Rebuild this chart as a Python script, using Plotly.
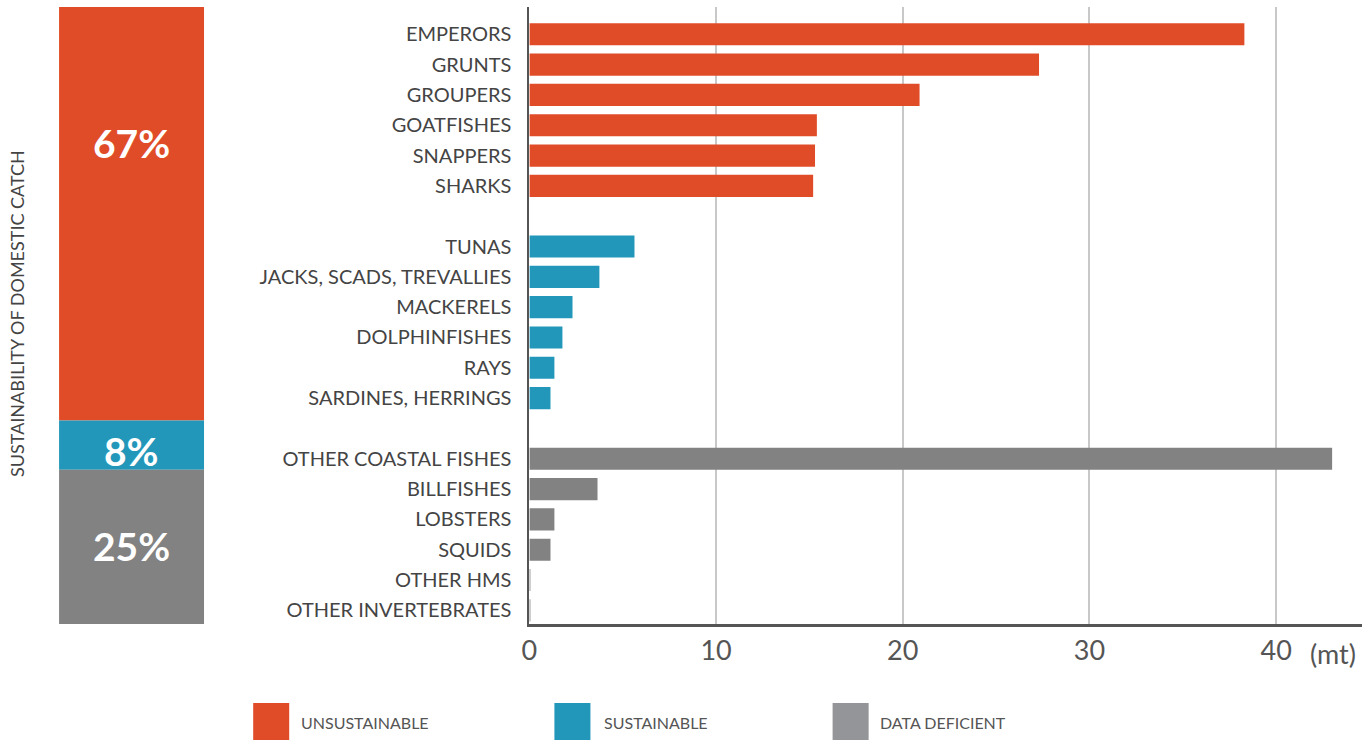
import plotly.graph_objects as go

# Catch by species group (mt), grouped by sustainability status
unsustainable_names = ["EMPERORS", "GRUNTS", "GROUPERS", "GOATFISHES", "SNAPPERS", "SHARKS"]
unsustainable_vals = [38.3, 27.3, 20.9, 15.4, 15.3, 15.2]

sustainable_names = ["TUNAS", "JACKS, SCADS, TREVALLIES", "MACKERELS", "DOLPHINFISHES", "RAYS",
                     "SARDINES, HERRINGS"]
sustainable_vals = [5.63, 3.75, 2.31, 1.77, 1.34, 1.13]

deficient_names = ["OTHER COASTAL FISHES", "BILLFISHES", "LOBSTERS", "SQUIDS", "OTHER HMS",
                   "OTHER INVERTEBRATES"]
deficient_vals = [43.0, 3.65, 1.34, 1.13, 0.05, 0.02]

# Share of domestic catch by status (%)
status_labels = ["UNSUSTAINABLE", "SUSTAINABLE", "DATA DEFICIENT"]
status_shares = [67, 8, 25]
# Where each percentage label sits along the share bar (0 = bottom, 100 = top)
share_label_pos = [78.0, 28.0, 12.6]

x_ticks = [0, 10, 20, 30, 40]

RED = "#E04C28"
BLUE = "#2397BA"
GREY = "#828282"
LEGEND_GREY = "#939598"
FONT = "Lato, 'Open Sans', sans-serif"

W, H = 1372, 740


def px(x):
    """Horizontal pixel position -> paper fraction."""
    return (x - 9) / (W - 9)


def py(y):
    """Vertical pixel position (from top) -> paper fraction."""
    return 1 - y / H


groups = [
    (unsustainable_names, unsustainable_vals, RED),
    (sustainable_names, sustainable_vals, BLUE),
    (deficient_names, deficient_vals, GREY),
]

fig = go.Figure()

# Rows are placed with one empty slot between groups
tickvals, ticktext = [], []
pos = 0
for names, vals, color in groups:
    ys = list(range(pos, pos + len(names)))
    fig.add_trace(go.Bar(
        x=vals, y=ys, orientation="h", marker=dict(color=color, line=dict(width=0)),
        width=0.73, showlegend=False, xaxis="x", yaxis="y",
    ))
    tickvals += ys
    ticktext += names
    pos += len(names) + 1

# Stacked share bar on the left
share_colors = [RED, BLUE, GREY]
cum = 100
for label, share, color, lab_y in zip(status_labels, status_shares, share_colors,
                                      share_label_pos):
    fig.add_trace(go.Bar(
        x=[0], y=[share], base=[cum - share], marker=dict(color=color, line=dict(width=0)),
        width=1, showlegend=False, xaxis="x2", yaxis="y2", name=label,
    ))
    fig.add_annotation(
        text=f"<b>{share}%</b>", x=0, y=lab_y, xref="x2", yref="y2", showarrow=False,
        font=dict(color="white", size=39, family=FONT), xanchor="center", yanchor="middle",
    )
    cum -= share

fig.update_layout(
    width=W, height=H,
    margin=dict(l=0, r=0, t=0, b=0),
    paper_bgcolor="white", plot_bgcolor="white",
    font=dict(family=FONT, color="#444"),
    barmode="overlay",
    xaxis=dict(
        domain=[px(530), px(1362)], range=[0, 44.6],
        tickvals=x_ticks, ticktext=[str(t) for t in x_ticks],
        tickfont=dict(size=27, color="#555", family=FONT),
        showgrid=True, gridcolor="#c8c8c8", gridwidth=1.5,
        showline=True, linecolor="#555", linewidth=3,
        zeroline=False, ticks="", ticklabelstandoff=1,
    ),
    yaxis=dict(
        domain=[py(624), py(7)], range=[19.45, -0.9],
        tickvals=tickvals, ticktext=ticktext,
        tickfont=dict(size=20, color="#444", family=FONT),
        showgrid=False, showline=True, linecolor="#555", linewidth=2,
        zeroline=False, ticks="", ticklabelstandoff=12,
    ),
    xaxis2=dict(domain=[px(60), px(205)], range=[-0.5, 0.5], visible=False, anchor="y2"),
    yaxis2=dict(domain=[py(624), py(7)], range=[0, 100], visible=False, anchor="x2"),
)

# Vertical title beside the share bar
fig.add_annotation(
    text="SUSTAINABILITY OF DOMESTIC CATCH", textangle=-90,
    x=px(18), y=py(314), xref="paper", yref="paper",
    showarrow=False, font=dict(size=18, color="#444", family=FONT),
    xanchor="center", yanchor="middle",
)

# Unit label after the last tick
fig.add_annotation(
    text="(mt)", x=px(1333), y=py(653), xref="paper", yref="paper",
    showarrow=False, font=dict(size=27, color="#555", family=FONT),
    xanchor="center", yanchor="middle",
)

# Legend swatches and labels
legend_items = [(254, 300, RED), (555, 603, BLUE), (833, 878, LEGEND_GREY)]
for (sx, tx, color), label in zip(legend_items, status_labels):
    fig.add_shape(type="rect", xref="paper", yref="paper",
                  x0=px(sx), x1=px(sx + 36), y0=py(740), y1=py(703),
                  fillcolor=color, line=dict(width=0))
    fig.add_annotation(text=label, x=px(tx), y=py(722), xref="paper", yref="paper",
                       showarrow=False, xanchor="left", yanchor="middle",
                       font=dict(size=16, color="#555", family=FONT))

fig.write_html("out.html")
